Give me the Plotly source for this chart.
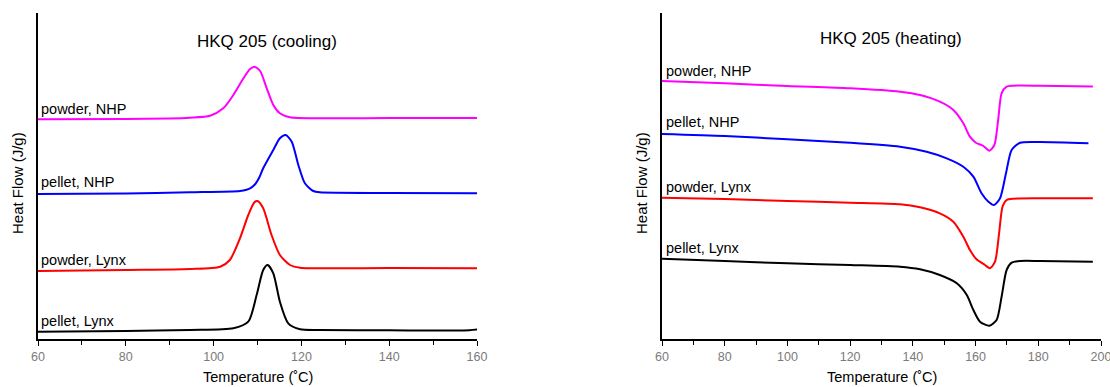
import plotly.graph_objects as go

# ---------------- data (offset heat-flow, arbitrary units) ----------------
# Cooling panel
cool_powder_nhp_T = [60, 80, 90, 94.6, 99.2, 102.2, 104.5, 106.8, 108.3, 109.3, 110.6, 112.1, 113.6, 115.1, 117.4, 124.2, 140, 160]
cool_powder_nhp_Q = [219.7, 220, 220.5, 221.3, 223.3, 230.7, 244, 260.7, 270, 272.3, 268, 250.7, 234, 225.7, 221.7, 220.7, 221, 221]

cool_pellet_nhp_T = [60, 80, 94.6, 106, 107.5, 108.5, 109.5, 110.4, 111.3, 113.6, 115.1, 116.4, 117.8, 119.3, 120.8, 122.7, 124.2, 140, 160]
cool_pellet_nhp_Q = [145, 145.5, 146.7, 148, 149.3, 151.2, 155, 161.5, 170.7, 189, 200.7, 204, 197.3, 174, 155.7, 148, 146.7, 146, 145.7]

cool_powder_lynx_T = [60, 80, 94.6, 101.5, 103.7, 106, 107.9, 109.3, 110, 111.3, 113.2, 115.1, 117.4, 119.7, 140, 160]
cool_powder_lynx_Q = [68, 69, 70, 72.3, 79, 100.7, 124, 136.7, 138, 130.7, 104, 84, 74, 71.3, 71, 70.7]

cool_pellet_lynx_T = [60, 80, 94.6, 104.5, 107.9, 109.8, 111.3, 112.3, 113.6, 115.1, 117, 119.7, 124.2, 140, 157, 160]
cool_pellet_lynx_Q = [7.3, 8, 9, 10.7, 17.3, 44, 69, 74, 65.7, 37.3, 15.7, 9.7, 9, 8.7, 8.5, 9.5]

# Heating panel
heat_powder_nhp_T = [60, 80, 100, 120, 135.9, 142.3, 148.6, 152.9, 156.1, 158.2, 160.1, 162.5, 164.4, 166, 167.2, 168.3, 169.9, 172, 180.5, 197.4]
heat_powder_nhp_Q = [258, 255.7, 253, 250.7, 247.3, 244, 237.3, 229, 215.7, 202.3, 196.3, 193, 188.3, 194, 219, 245.7, 252.3, 253.3, 253.3, 252.5]

heat_pellet_nhp_T = [60, 80, 100, 120, 135.9, 144.4, 150.8, 156.1, 159.3, 161.9, 164.1, 165.9, 167.8, 169.7, 171.5, 174.2, 180.5, 196]
heat_pellet_nhp_Q = [205, 203, 199.7, 196.3, 192.3, 187.3, 180.7, 172.3, 162.3, 145.7, 137.3, 134, 140.7, 165.7, 189, 196.3, 197, 195.7]

heat_powder_lynx_T = [60, 80, 100, 120, 135.9, 142.3, 148.6, 152.9, 156.1, 158.2, 160.3, 163, 164.6, 166.2, 167.5, 168.6, 169.9, 172, 180.5, 197.4]
heat_powder_lynx_Q = [141.3, 140, 138, 136.3, 134.7, 131.7, 125.7, 117.3, 102.3, 89, 79.7, 74, 70.7, 77.3, 105.7, 132.3, 139, 140.3, 140.7, 140.7]

heat_pellet_lynx_T = [60, 80, 100, 120, 135.9, 142.3, 148.6, 154, 157.2, 159.3, 161.4, 164.4, 166.7, 168.3, 169.9, 171.5, 174.2, 180.5, 197.4]
heat_pellet_lynx_Q = [80.3, 78, 75.7, 74, 72.3, 69.7, 64, 55.7, 44, 29, 17.3, 13.3, 19, 42.3, 69, 76.3, 78, 78, 77.3]

series_names = ["powder, NHP", "pellet, NHP", "powder, Lynx", "pellet, Lynx"]
series_colors = ["#FF00FF", "#0000FF", "#FF0000", "#000000"]

cool_label_Q = [230, 157, 79, 18]
heat_label_Q = [268, 217, 152, 91]

cool_ticks = [60, 80, 100, 120, 140, 160]
heat_ticks = [60, 80, 100, 120, 140, 160, 180, 200]

# ---------------- figure ----------------
W, H = 1110, 387
FONT = "Liberation Sans, Arial, sans-serif"

fig = go.Figure()

cool = [(cool_powder_nhp_T, cool_powder_nhp_Q), (cool_pellet_nhp_T, cool_pellet_nhp_Q),
        (cool_powder_lynx_T, cool_powder_lynx_Q), (cool_pellet_lynx_T, cool_pellet_lynx_Q)]
heat = [(heat_powder_nhp_T, heat_powder_nhp_Q), (heat_pellet_nhp_T, heat_pellet_nhp_Q),
        (heat_powder_lynx_T, heat_powder_lynx_Q), (heat_pellet_lynx_T, heat_pellet_lynx_Q)]

for (t, q), name, c in zip(cool, series_names, series_colors):
    fig.add_trace(go.Scatter(x=t, y=q, mode="lines", name=name, xaxis="x", yaxis="y",
                             line=dict(color=c, width=2, shape="spline", smoothing=0.7),
                             showlegend=False))
for (t, q), name, c in zip(heat, series_names, series_colors):
    fig.add_trace(go.Scatter(x=t, y=q, mode="lines", name=name, xaxis="x2", yaxis="y2",
                             line=dict(color=c, width=2, shape="spline", smoothing=0.7),
                             showlegend=False))

y_dom = [1 - 339 / H, 1 - 13 / H]
xaxis_common = dict(showline=True, linecolor="black", linewidth=1.5, showgrid=False, zeroline=False,
                    ticks="outside", ticklen=5, tickwidth=1, tickcolor="black",
                    ticklabeloverflow="allow", automargin=False,
                    tickfont=dict(family=FONT, size=12.5, color="#7a7a7a"),
                    minor=dict(dtick=10, ticks="outside", ticklen=4, tickwidth=1, tickcolor="black"))
yaxis_common = dict(showline=True, linecolor="black", linewidth=1.5, showgrid=False, zeroline=False,
                    showticklabels=False, ticks="", range=[0, 326], domain=y_dom, automargin=False)

fig.update_layout(
    width=W, height=H, margin=dict(l=0, r=0, t=0, b=0, pad=0), autosize=False,
    paper_bgcolor="white", plot_bgcolor="white",
    xaxis=dict(domain=[38 / W, 477 / W], range=[60, 160], tickvals=cool_ticks, anchor="y", **xaxis_common),
    yaxis=dict(anchor="x", **yaxis_common),
    xaxis2=dict(domain=[662 / W, 1101 / W], range=[60, 200], tickvals=heat_ticks, anchor="y2", **xaxis_common),
    yaxis2=dict(anchor="x2", **yaxis_common),
    font=dict(family=FONT),
)

LBL = 14.5
ann = []
for name, q in zip(series_names, cool_label_Q):
    ann.append(dict(x=60.3, y=q, xref="x", yref="y", text=name, showarrow=False,
                    xanchor="left", yanchor="middle", font=dict(family=FONT, size=LBL, color="black")))
for name, q in zip(series_names, heat_label_Q):
    ann.append(dict(x=60.6, y=q, xref="x2", yref="y2", text=name, showarrow=False,
                    xanchor="left", yanchor="middle", font=dict(family=FONT, size=LBL, color="black")))

ann += [
    dict(x=267 / W, y=1 - 42 / H, xref="paper", yref="paper", text="HKQ 205 (cooling)", showarrow=False,
         xanchor="center", yanchor="middle", font=dict(family=FONT, size=17, color="black")),
    dict(x=891 / W, y=1 - 39 / H, xref="paper", yref="paper", text="HKQ 205 (heating)", showarrow=False,
         xanchor="center", yanchor="middle", font=dict(family=FONT, size=17, color="black")),
    dict(x=257.5 / W, y=0, xref="paper", yref="paper", text="Temperature (˚C)", showarrow=False,
         xanchor="center", yanchor="bottom", font=dict(family=FONT, size=14.5, color="black")),
    dict(x=881.5 / W, y=0, xref="paper", yref="paper", text="Temperature (˚C)", showarrow=False,
         xanchor="center", yanchor="bottom", font=dict(family=FONT, size=14.5, color="black")),
    dict(x=18 / W, y=1 - 183 / H, xref="paper", yref="paper", text="Heat Flow (J/g)", showarrow=False,
         textangle=-90, xanchor="center", yanchor="middle", font=dict(family=FONT, size=15, color="black")),
    dict(x=642 / W, y=1 - 183 / H, xref="paper", yref="paper", text="Heat Flow (J/g)", showarrow=False,
         textangle=-90, xanchor="center", yanchor="middle", font=dict(family=FONT, size=15, color="black")),
]
fig.update_layout(annotations=ann)

fig.write_html("out.html")
